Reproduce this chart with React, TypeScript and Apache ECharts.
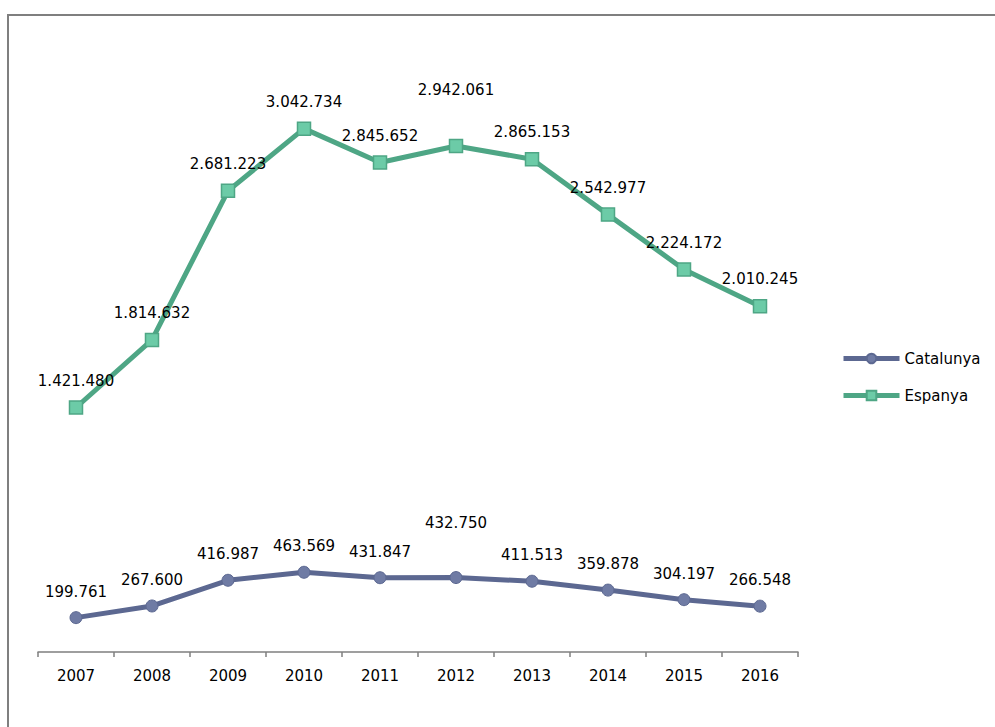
import React, { useEffect, useRef } from "react";
import * as echarts from "echarts";

const years = ["2007", "2008", "2009", "2010", "2011", "2012", "2013", "2014", "2015", "2016"];
const catalunya = [199761, 267600, 416987, 463569, 431847, 432750, 411513, 359878, 304197, 266548];
const espanya = [1421480, 1814632, 2681223, 3042734, 2845652, 2942061, 2865153, 2542977, 2224172, 2010245];

const fmt = (v: number) => String(v).replace(/\B(?=(\d{3})+(?!\d))/g, ".");

const FONT = "'DejaVu Sans', sans-serif";

export default function App() {
  const ref = useRef<HTMLDivElement>(null);
  useEffect(() => {
    document.body.style.margin = "0";
    const chart = echarts.init(ref.current!, null, { renderer: "svg" });
    const mkData = (arr: number[]) =>
      arr.map((v, i) => ({
        value: v,
        label: { distance: i === 5 ? 41 : 12 },
      }));
    chart.setOption({
      animation: false,
      backgroundColor: "#ffffff",
      textStyle: { fontFamily: FONT },
      graphic: [
        {
          type: "rect",
          shape: { x: 8, y: 15, width: 1100, height: 900 },
          style: { fill: "none", stroke: "#7f7f7f", lineWidth: 2 },
          silent: true,
        },
      ],
      grid: { left: 38, right: 197, top: 50, bottom: 75 },
      legend: {
        orient: "vertical",
        left: 841,
        top: 351,
        padding: 0,
        itemWidth: 56,
        itemHeight: 12,
        itemGap: 22,
        lineStyle: { width: 5 },
        textStyle: { fontSize: 15, color: "#000", fontFamily: FONT },
        data: ["Catalunya", "Espanya"],
      },
      xAxis: {
        type: "category",
        data: years,
        boundaryGap: true,
        axisLine: { lineStyle: { color: "#7f7f7f", width: 1.5 } },
        axisTick: { show: true, length: 5, lineStyle: { color: "#7f7f7f", width: 1.5 }, inside: false },
        axisLabel: { fontSize: 15, color: "#000", margin: 16, fontFamily: FONT },
      },
      yAxis: {
        type: "value",
        min: 0,
        max: 3500000,
        show: false,
        splitLine: { show: false },
      },
      series: [
        {
          name: "Catalunya",
          type: "line",
          data: mkData(catalunya),
          symbol: "circle",
          symbolSize: 12,
          lineStyle: { color: "#5c6891", width: 5 },
          itemStyle: { color: "#6f7ba4", borderColor: "#5c6891", borderWidth: 1 },
          label: {
            show: true,
            position: "top",
            fontSize: 15,
            color: "#000",
            fontFamily: FONT,
            formatter: (p: any) => fmt(p.value),
          },
        },
        {
          name: "Espanya",
          type: "line",
          data: mkData(espanya),
          symbol: "rect",
          symbolSize: 13,
          lineStyle: { color: "#4ea685", width: 5 },
          itemStyle: { color: "#6ccba7", borderColor: "#4ea685", borderWidth: 1.5 },
          label: {
            show: true,
            position: "top",
            fontSize: 15,
            color: "#000",
            fontFamily: FONT,
            formatter: (p: any) => fmt(p.value),
          },
        },
      ],
    });
    return () => chart.dispose();
  }, []);
  return <div ref={ref} style={{ width: 995, height: 727 }} />;
}
